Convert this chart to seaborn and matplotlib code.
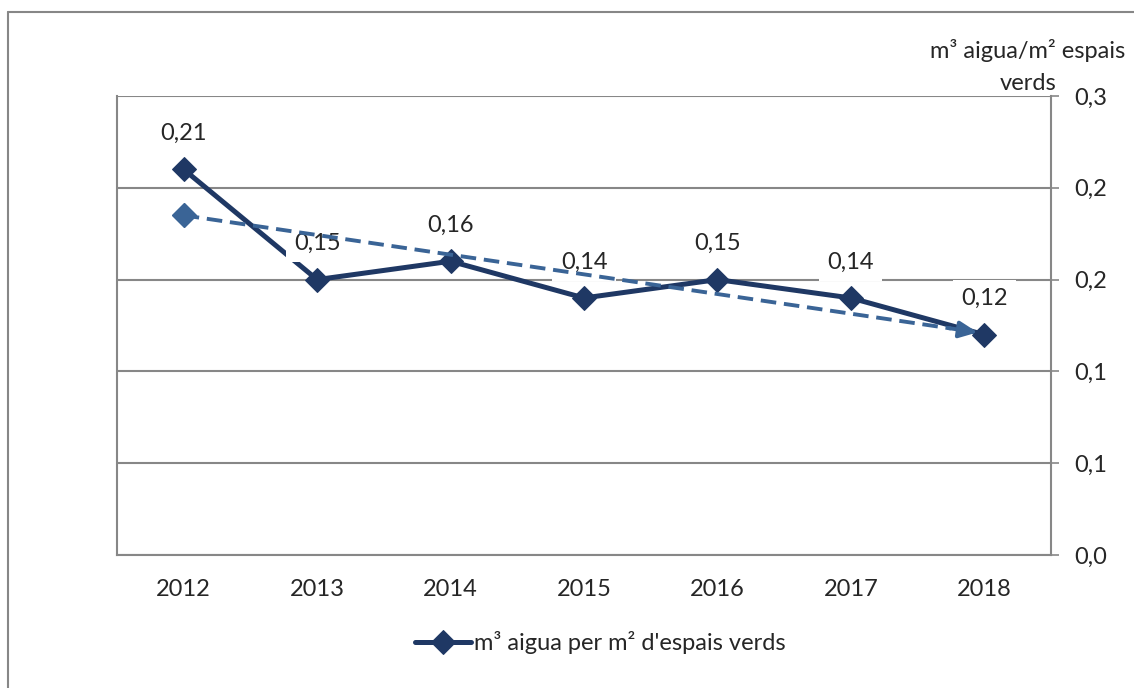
import numpy as np
import pandas as pd
import seaborn as sns
import matplotlib.pyplot as plt
from matplotlib.lines import Line2D

# data
years = ['2012', '2013', '2014', '2015', '2016', '2017', '2018']
values = [0.21, 0.15, 0.16, 0.14, 0.15, 0.14, 0.12]
value_labels = ['0,21', '0,15', '0,16', '0,14', '0,15', '0,14', '0,12']
y_ticks = [0.0, 0.05, 0.10, 0.15, 0.20, 0.25]
y_tick_labels = ['0,0', '0,1', '0,1', '0,2', '0,2', '0,3']
series_name = "m³ aigua per m² d'espais verds"
axis_title_1 = "m³ aigua/m² espais"
axis_title_2 = "verds"

sns.set_style('white')
plt.rcParams['font.family'] = ['Lato', 'DejaVu Sans']

navy = '#1F3864'
trend_c = '#3A6496'
grid_c = '#878787'
txt_c = '#262626'
fs = 17

df = pd.DataFrame({'year': years, 'value': values})
df['pos'] = np.arange(len(years))

fig = plt.figure(figsize=(11.34, 6.88), dpi=100)
ax = fig.add_axes([117/1134, 133/688, (1051-117)/1134, (555-96)/688])

# main series
sns.lineplot(data=df, x='pos', y='value', ax=ax, color=navy, lw=3.6,
             marker='D', markersize=12, markeredgecolor=navy,
             label=series_name, zorder=3)

# linear trend
slope, icpt = np.polyfit(df['pos'], df['value'], 1)
df['trend'] = icpt + slope * df['pos']
x_end = df['pos'].iloc[-1] - 0.05
x_stop = x_end - 0.2
ax.plot([0, x_stop], [df['trend'].iloc[0], icpt + slope * x_stop],
        color=trend_c, lw=2.8, ls=(0, (4, 2)), zorder=5)
ax.plot([0], [df['trend'].iloc[0]], marker='D', color=trend_c,
        markersize=12, zorder=5)
ax.annotate('', xy=(x_end, icpt + slope * x_end),
            xytext=(x_stop - 0.02, icpt + slope * (x_stop - 0.02)),
            arrowprops=dict(arrowstyle='-|>,head_length=1.1,head_width=0.5',
                            color=trend_c, lw=2.8, shrinkA=0, shrinkB=0),
            zorder=5)

# data labels
for p, v, lab in zip(df['pos'], df['value'], value_labels):
    ax.annotate(lab, (p, v), xytext=(0, 26), textcoords='offset points',
                ha='center', va='center', fontsize=fs, color=txt_c, zorder=4,
                bbox=dict(boxstyle='square,pad=0.35', fc='white', ec='none'))

ax.set_xlim(-0.5, 6.5)
ax.set_ylim(0, 0.25)
ax.set_xticks(df['pos'])
ax.set_xticklabels(years, fontsize=fs, color=txt_c)
ax.set_xticks(np.arange(-0.5, 7, 1), minor=True)
ax.tick_params(axis='x', which='major', length=0, pad=17)
ax.tick_params(axis='x', which='minor', length=6, width=1.2, color=grid_c,
               direction='out')
ax.yaxis.tick_right()
ax.set_yticks(y_ticks)
ax.set_yticklabels(y_tick_labels, fontsize=fs, color=txt_c)
ax.tick_params(axis='y', length=6, width=1.2, color=grid_c, direction='out',
               pad=11)
ax.set_xlabel('')
ax.set_ylabel('')

ax.yaxis.grid(True, color=grid_c, lw=1.5)
ax.set_axisbelow(True)
ax.spines['top'].set_visible(False)
for s in ['left', 'right', 'bottom']:
    ax.spines[s].set_color(grid_c)
    ax.spines[s].set_linewidth(1.5)

handles, labels = ax.get_legend_handles_labels()
ax.get_legend().remove()
fig.legend(handles, labels, loc='center', bbox_to_anchor=(0.529, 1 - 643/688),
           frameon=False, fontsize=fs, handlelength=2.4, handletextpad=0.1,
           labelcolor=txt_c)

fig.text(1028/1134, 1 - 50/688, axis_title_1, ha='center', va='center',
         fontsize=fs, color=txt_c)
fig.text(1028/1134, 1 - 84/688, axis_title_2, ha='center', va='center',
         fontsize=fs, color=txt_c)

# outer frame
fig.add_artist(Line2D([8/1134, 1], [1 - 12/688] * 2, transform=fig.transFigure,
                      color=grid_c, lw=1.5))
fig.add_artist(Line2D([8/1134] * 2, [0, 1 - 12/688], transform=fig.transFigure,
                      color=grid_c, lw=1.5))

fig.savefig('out.png', dpi=100)
